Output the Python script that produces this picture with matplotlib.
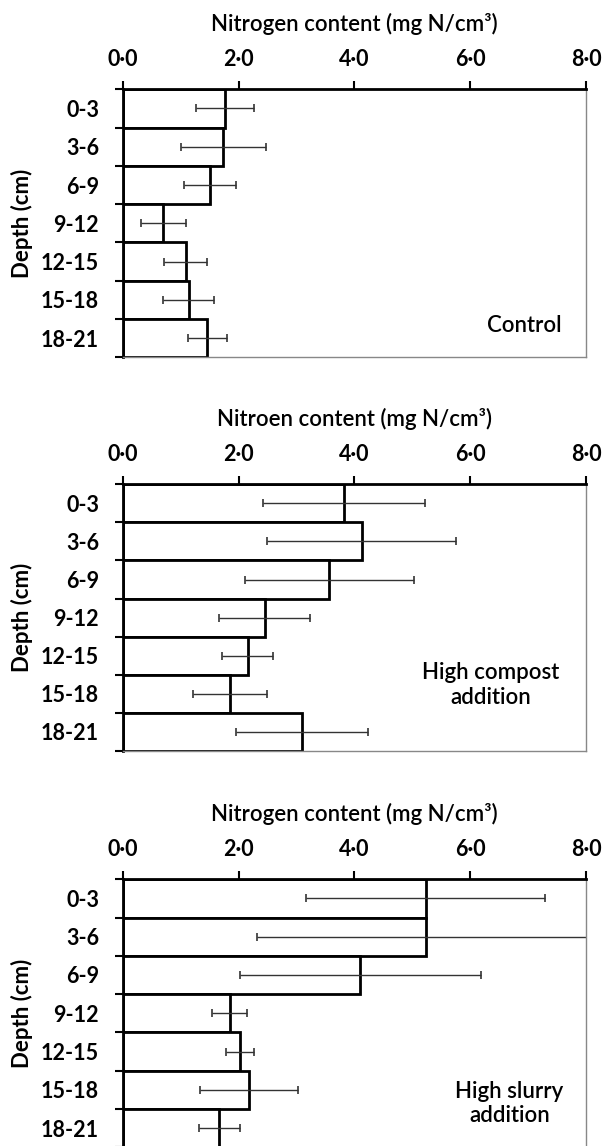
import numpy as np
import matplotlib
matplotlib.use("Agg")
import matplotlib.pyplot as plt

plt.rcParams['font.family'] = ['Lato', 'DejaVu Sans']

depths = ["0-3", "3-6", "6-9", "9-12", "12-15", "15-18", "18-21"]
xticks = [0.0, 2.0, 4.0, 6.0, 8.0]
xticklabels = ["0·0", "2·0", "4·0", "6·0", "8·0"]

control_mean = [1.76, 1.74, 1.51, 0.70, 1.09, 1.14, 1.46]
control_err = [0.50, 0.74, 0.45, 0.39, 0.37, 0.44, 0.34]
compost_mean = [3.82, 4.13, 3.57, 2.45, 2.16, 1.86, 3.09]
compost_err = [1.40, 1.63, 1.46, 0.79, 0.44, 0.64, 1.14]
slurry_mean = [5.23, 5.23, 4.10, 1.85, 2.03, 2.18, 1.67]
slurry_err = [2.06, 2.91, 2.08, 0.30, 0.24, 0.84, 0.36]

titles = ["Nitrogen content (mg N/cm³)", "Nitroen content (mg N/cm³)",
          "Nitrogen content (mg N/cm³)"]
labels = ["Control", "High compost\naddition", "High slurry\naddition"]
label_pos = [(0.867, 0.12), (0.795, 0.247), (0.835, 0.163)]

fig = plt.figure(figsize=(6.03, 11.46), dpi=100)
# axes boxes in figure fraction: [left, bottom, width, height]
boxes = [[0.2035, 0.6882, 0.7683, 0.2339],
         [0.2035, 0.3447, 0.7683, 0.2327],
         [0.2035, -0.0011, 0.7683, 0.2339]]
panels = [(control_mean, control_err), (compost_mean, compost_err),
          (slurry_mean, slurry_err)]

for i, (mean, err) in enumerate(panels):
    ax = fig.add_axes(boxes[i])
    ypos = np.arange(len(depths))
    ax.barh(ypos, mean, height=1.0, color="white", edgecolor="black", linewidth=2)
    ax.errorbar(mean, ypos, xerr=err, fmt="none", ecolor="#333333",
                elinewidth=1, capsize=3, capthick=1.2)
    ax.set_xlim(0, 8)
    ax.set_ylim(len(depths) - 0.5, -0.5)

    ax.xaxis.tick_top()
    ax.xaxis.set_label_position("top")
    ax.set_xticks(xticks)
    ax.set_xticklabels(xticklabels, fontsize=15.5, fontweight="bold")
    ax.tick_params(axis="x", direction="out", length=5.8, width=1.5, pad=8)
    ax.set_xlabel(titles[i], fontsize=16, fontweight="semibold", labelpad=13)

    ax.set_yticks(np.arange(len(depths) + 1) - 0.5)
    ax.set_yticklabels([])
    ax.set_yticks(ypos, minor=True)
    ax.set_yticklabels(depths, minor=True, fontsize=15.5, fontweight="bold")
    ax.tick_params(axis="y", which="major", direction="out", length=5.5, width=1.5)
    ax.tick_params(axis="y", which="minor", length=0, pad=17)
    ax.set_ylabel("Depth (cm)", fontsize=16, fontweight="bold", labelpad=6)

    for s in ("top", "left"):
        ax.spines[s].set_linewidth(2)
        ax.spines[s].set_color("black")
    for s in ("right", "bottom"):
        ax.spines[s].set_linewidth(1)
        ax.spines[s].set_color("#888888")

    ax.text(label_pos[i][0], label_pos[i][1], labels[i], transform=ax.transAxes,
            ha="center", va="center", fontsize=16, fontweight="semibold",
            linespacing=1.2)

fig.savefig("out.png", dpi=100)
